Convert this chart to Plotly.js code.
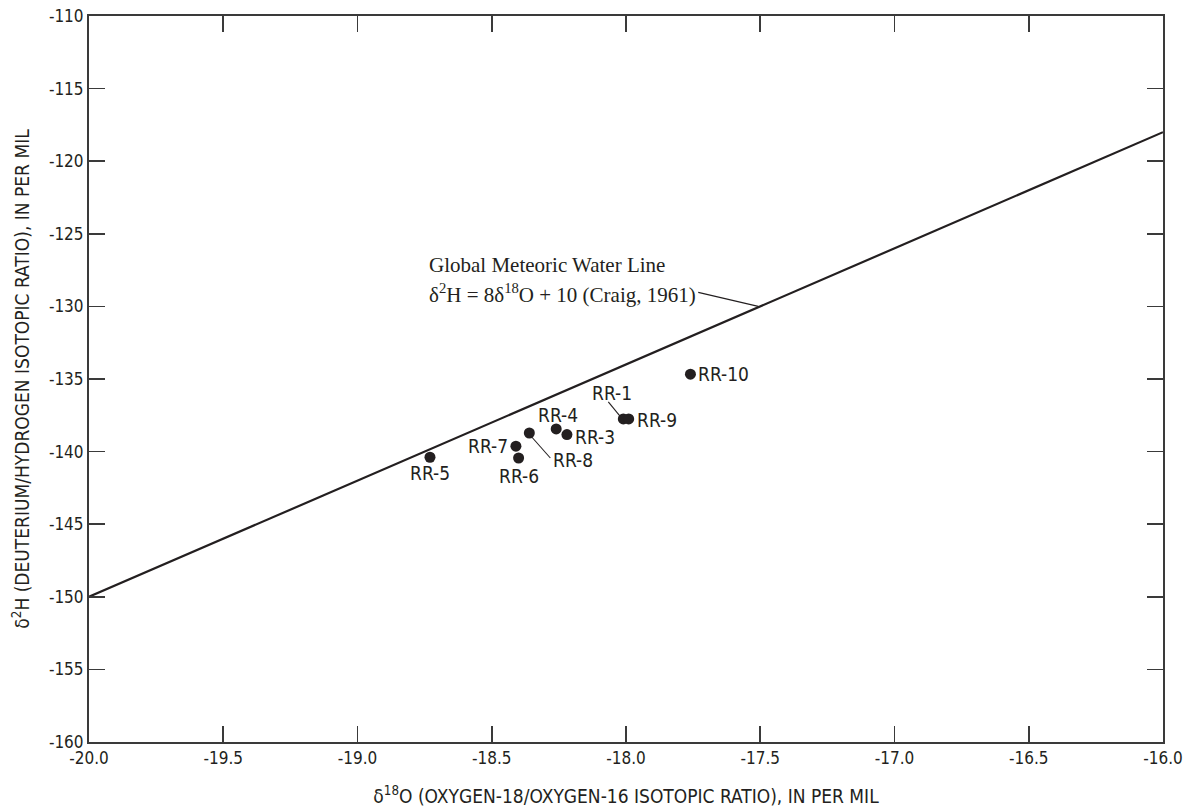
<!DOCTYPE html>
<html>
<head>
<meta charset="utf-8">
<script src="https://cdn.plot.ly/plotly-3.0.1.min.js"></script>
<style>
html,body{margin:0;padding:0;background:#fff;}
#chart{width:1184px;height:809px;}
</style>
</head>
<body>
<div id="chart"></div>
<script>
// ---- data ----
const sampleNames = ["RR-1","RR-3","RR-4","RR-5","RR-6","RR-7","RR-8","RR-9","RR-10"];
const delta18O   = [-18.01,-18.22,-18.26,-18.73,-18.40,-18.41,-18.36,-17.99,-17.76];
const delta2H    = [-137.75,-138.83,-138.44,-140.39,-140.44,-139.63,-138.72,-137.75,-134.67];

const gmwlX = [-20, -16];
const gmwlY = [-150, -118];

const xTickVals = [-20,-19.5,-19,-18.5,-18,-17.5,-17,-16.5,-16];
const xTickText = ["-20.0","-19.5","-19.0","-18.5","-18.0","-17.5","-17.0","-16.5","-16.0"];
const yTickVals = [-110,-115,-120,-125,-130,-135,-140,-145,-150,-155,-160];
const yTickText = ["-110","-115","-120","-125","-130","-135","-140","-145","-150","-155","-160"];

const gmwlTitle = "Global Meteoric Water Line";
const gmwlEq = "δ<sup>2</sup>H = 8δ<sup>18</sup>O + 10 (Craig, 1961)";
const gmwlLeaderAt = {x: -17.5, y: -130};

// ---- style ----
const sans = "'Liberation Sans Narrow','DejaVu Sans Condensed',Roboto,sans-serif";
const serif = "'Liberation Serif','Times New Roman',serif";
const ink = "#231f20";

// label placement (pixel offsets from each point)
const labelStyle = {
  "RR-1": {xanchor:"center", xshift:-11, yshift:26},
  "RR-3": {xanchor:"left",   xshift:6,   yshift:-2},
  "RR-4": {xanchor:"center", xshift:2,   yshift:14},
  "RR-5": {xanchor:"center", xshift:0,   yshift:-16},
  "RR-6": {xanchor:"center", xshift:0,   yshift:-18},
  "RR-7": {xanchor:"right",  xshift:-6,  yshift:0},
  "RR-8": {xanchor:"left",   xshift:22,  yshift:-27},
  "RR-9": {xanchor:"left",   xshift:6,   yshift:-1},
  "RR-10":{xanchor:"left",   xshift:6,   yshift:0}
};
// leader lines in pixel offsets (y up) from the point
const leaders = {
  "RR-1": {x0:-15, y0:17, x1:-2.7, y1:2},
  "RR-8": {x0:21, y0:-25, x1:2.4, y1:-4}
};

const annotations = [];
const shapes = [];
sampleNames.forEach((n,i)=>{
  const s = labelStyle[n];
  annotations.push({
    x: delta18O[i], y: delta2H[i], xref:"x", yref:"y",
    text: n, showarrow:false,
    xanchor: s.xanchor, yanchor:"middle",
    xshift: s.xshift, yshift: s.yshift,
    font:{family:sans, size:19, color:ink}
  });
  if (leaders[n]) {
    const l = leaders[n];
    shapes.push({
      type:"line", xref:"x", yref:"y",
      xsizemode:"pixel", ysizemode:"pixel",
      xanchor: delta18O[i], yanchor: delta2H[i],
      x0:l.x0, y0:l.y0, x1:l.x1, y1:l.y1,
      line:{color:ink, width:1.1}
    });
  }
});
// GMWL labels
annotations.push({
  x: -18.741, y: -127.16, xref:"x", yref:"y", text: gmwlTitle, showarrow:false,
  xanchor:"left", yanchor:"middle", font:{family:serif, size:21, color:ink}
});
annotations.push({
  x: -18.741, y: -129.09, xref:"x", yref:"y", text: gmwlEq, showarrow:false,
  xanchor:"left", yanchor:"middle", font:{family:serif, size:21, color:ink}
});
shapes.push({
  type:"line", xref:"x", yref:"y",
  xsizemode:"pixel", ysizemode:"pixel",
  xanchor: gmwlLeaderAt.x, yanchor: gmwlLeaderAt.y,
  x0:-62, y0:14, x1:-2, y1:0,
  line:{color:ink, width:1.1}
});

const traces = [
  {x: gmwlX, y: gmwlY, mode:"lines", type:"scatter",
   line:{color:ink, width:2.2}, hoverinfo:"skip", showlegend:false},
  {x: delta18O, y: delta2H, mode:"markers", type:"scatter", text: sampleNames,
   marker:{color:ink, size:11}, showlegend:false}
];

const axisCommon = {
  showgrid:false, zeroline:false, showline:true, linecolor:"#3a3a3a", linewidth:2,
  mirror:"ticks", ticks:"inside", ticklen:16, tickwidth:1.6, tickcolor:"#3a3a3a",
  tickfont:{family:sans, size:17, color:ink}, tickmode:"array"
};

const layout = {
  width:1184, height:809,
  margin:{l:89, r:21, t:16, b:67},
  paper_bgcolor:"#fff", plot_bgcolor:"#fff",
  showlegend:false,
  xaxis: Object.assign({}, axisCommon, {
    range:[-20,-16], tickvals:xTickVals, ticktext:xTickText,
    title:{text:"δ<sup>18</sup>O (OXYGEN-18/OXYGEN-16 ISOTOPIC RATIO), IN PER MIL",
           font:{family:sans, size:19, color:ink}, standoff:22}
  }),
  yaxis: Object.assign({}, axisCommon, {
    range:[-160,-110], tickvals:yTickVals, ticktext:yTickText,
    title:{text:"δ<sup>2</sup>H (DEUTERIUM/HYDROGEN ISOTOPIC RATIO), IN PER MIL",
           font:{family:sans, size:19, color:ink}, standoff:14}
  }),
  shapes: shapes,
  annotations: annotations
};

Plotly.newPlot("chart", traces, layout, {displayModeBar:false, staticPlot:true});
</script>
</body>
</html>
